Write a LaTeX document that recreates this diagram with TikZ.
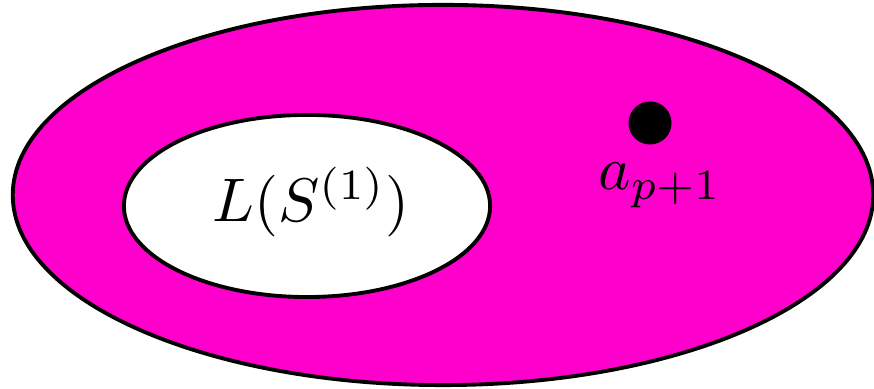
\documentclass[tikz,border=0pt]{standalone}
\usepackage{amsmath}
\usepackage{amssymb}
\usepackage{tikz}
\usepackage{color}
\usetikzlibrary{shapes.geometric}
\definecolor{setpink}{RGB}{255,0,204}
\begin{document}
\begin{tikzpicture}[x=0.01cm,y=0.01cm,
  set/.style={ellipse,draw,line width=1.1pt,inner sep=0pt},
  big/.style={scale=1.75}]
\useasboundingbox (0,0) rectangle (874,389);
\node [set,fill=setpink,minimum width=8.6cm,minimum height=3.8cm] (outer) at (443,194) {};
\node [set,fill=white,minimum width=3.66cm,minimum height=1.82cm] (inner) at (307,183) {};
\node [big,anchor=base] (l) at (311,167) {$L(S^{(1)})$};
\node [circle,fill=black,minimum size=0.43cm,inner sep=0pt] (pt) at (650,266) {};
\node [big,anchor=base] (a) at (660,199) {$a_{p+1}$};
\end{tikzpicture}
\end{document}
